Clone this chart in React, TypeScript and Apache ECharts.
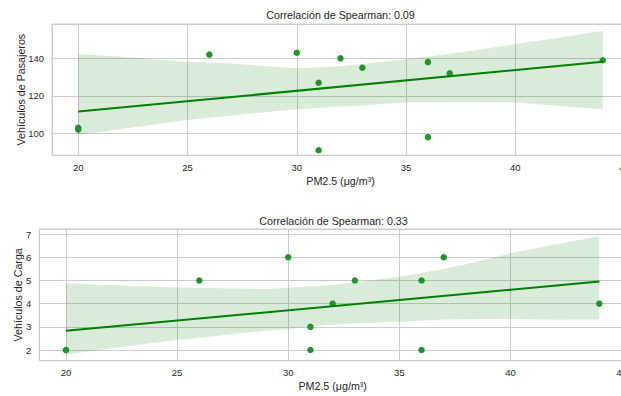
import React, { useEffect, useRef } from "react";
import * as echarts from "echarts";

const pm25 = [20, 20, 26, 30, 31, 31, 32, 33, 36, 36, 37, 44];
const pasajeros = [103, 102, 142, 143, 127, 91, 140, 135, 138, 98, 132, 139];
const carga = [2, 2, 5, 6, 3, 2, 4, 5, 5, 2, 6, 4];

const titles = ["Correlación de Spearman: 0.09", "Correlación de Spearman: 0.33"];
const yNames = ["Vehículos de Pasajeros", "Vehículos de Carga"];
const xName = "PM2.5 (μg/m³)";

// confidence band edges
const bandX = [20, 22, 24, 25, 27, 29, 30, 32, 35, 37, 38, 40, 42, 44];
const pasUpper = [142.3, 140.8, 139.0, 138.2, 137.3, 135.5, 134.7, 135.8, 139.5, 142.5, 144.0, 147.6, 151.0, 154.7];
const pasLower = [99.1, 102.3, 105.5, 107.1, 109.5, 111.8, 112.8, 114.2, 116.4, 116.6, 116.6, 116.4, 114.6, 112.8];
const carUpper = [4.87, 4.8, 4.73, 4.7, 4.67, 4.63, 4.69, 4.8, 5.16, 5.5, 5.7, 6.17, 6.55, 6.91];
const carLower = [1.81, 2.07, 2.31, 2.43, 2.63, 2.83, 2.91, 3.1, 3.22, 3.32, 3.33, 3.34, 3.31, 3.32];

const FONT = "'Liberation Sans', Arial, sans-serif";
const TXT = "#262626";
const GRIDC = "#cccccc";
const PT = "#22922a";
const LINE = "#008000";

function ols(xs: number[], ys: number[]) {
  const n = xs.length;
  const mx = xs.reduce((a, b) => a + b, 0) / n;
  const my = ys.reduce((a, b) => a + b, 0) / n;
  let sxy = 0, sxx = 0;
  for (let i = 0; i < n; i++) {
    sxy += (xs[i] - mx) * (ys[i] - my);
    sxx += (xs[i] - mx) * (xs[i] - mx);
  }
  const b = sxy / sxx;
  const a = my - b * mx;
  const x0 = Math.min(...xs), x1 = Math.max(...xs);
  return [[x0, a + b * x0], [x1, a + b * x1]];
}

export default function App() {
  const ref = useRef<HTMLDivElement>(null);
  useEffect(() => {
    if (!ref.current) return;
    const chart = echarts.init(ref.current, null, { renderer: "svg" });
    const grids = [
      { left: 52, top: 24, width: 577, height: 131.3 },
      { left: 39.3, top: 229, width: 586.7, height: 131.7 },
    ];
    const yRanges = [
      { min: 88.3, max: 158.3, splitNumber: 3, gap: 25.6 },
      { min: 1.54, max: 7.22, splitNumber: 5, gap: 16.2 },
    ];
    const ys = [pasajeros, carga];
    const uppers = [pasUpper, carUpper];
    const lowers = [pasLower, carLower];
    const series: any[] = [];
    for (let k = 0; k < 2; k++) {
      const up = uppers[k];
      const lo = lowers[k];
      series.push({
        type: "custom",
        xAxisIndex: k,
        yAxisIndex: k,
        silent: true,
        clip: true,
        z: 1,
        data: bandX.map((x, i) => [x, lo[i], up[i]]),
        encode: { x: 0, y: [1, 2] },
        renderItem: (params: any, api: any) => {
          if (params.dataIndex !== 0) return null;
          const pts: number[][] = [];
          for (let i = 0; i < bandX.length; i++) pts.push(api.coord([bandX[i], up[i]]));
          for (let i = bandX.length - 1; i >= 0; i--) pts.push(api.coord([bandX[i], lo[i]]));
          return {
            type: "polygon",
            shape: { points: pts },
            style: { fill: "rgba(0,128,0,0.15)", stroke: "none" },
          };
        },
      });
      series.push({
        type: "scatter",
        xAxisIndex: k,
        yAxisIndex: k,
        symbolSize: 6.5,
        itemStyle: { color: PT, opacity: 1 },
        data: pm25.map((x, i) => [x, ys[k][i]]),
        z: 3,
      });
      series.push({
        type: "line",
        xAxisIndex: k,
        yAxisIndex: k,
        symbol: "none",
        lineStyle: { color: LINE, width: 2 },
        data: ols(pm25, ys[k]),
        z: 4,
      });
    }
    const isMult = (v: number, m: number) => Math.abs(v / m - Math.round(v / m)) < 1e-6;
    chart.setOption({
      animation: false,
      textStyle: { fontFamily: FONT },
      grid: grids.map((g) => ({
        ...g,
        show: true,
        borderColor: GRIDC,
        borderWidth: 1,
        containLabel: false,
        outerBoundsMode: "none",
      })),
      xAxis: grids.map((_, k) => ({
        type: "value",
        gridIndex: k,
        min: 18.8,
        max: 45.2,
        splitNumber: 5,
        name: xName,
        nameLocation: "middle",
        nameGap: 20,
        nameMoveOverlap: false,
        nameTextStyle: { color: TXT, fontSize: 10.7, fontFamily: FONT },
        axisLine: { show: false },
        axisTick: { show: false },
        axisLabel: {
          color: TXT,
          fontSize: 9.5,
          margin: 7,
          fontFamily: FONT,
          showMinLabel: true,
          showMaxLabel: true,
          hideOverlap: false,
          formatter: (v: number) => (isMult(v, 5) ? String(v) : ""),
        },
        splitLine: { show: true, lineStyle: { color: GRIDC, width: 1 } },
      })),
      yAxis: yRanges.map((r, k) => ({
        type: "value",
        gridIndex: k,
        min: r.min,
        max: r.max,
        splitNumber: r.splitNumber,
        name: yNames[k],
        nameLocation: "middle",
        nameGap: r.gap,
        nameRotate: 90,
        nameMoveOverlap: false,
        nameTextStyle: { color: TXT, fontSize: 10.7, fontFamily: FONT },
        axisLine: { show: false },
        axisTick: { show: false },
        axisLabel: {
          color: TXT,
          fontSize: 9.5,
          margin: 8,
          fontFamily: FONT,
          formatter: (v: number) => (isMult(v, k === 0 ? 20 : 1) ? String(v) : ""),
        },
        splitLine: { show: true, lineStyle: { color: GRIDC, width: 1 } },
      })),
      graphic: [
        {
          type: "text",
          x: 340.5,
          y: 14.5,
          style: { text: titles[0], align: "center", verticalAlign: "middle", textAlign: "center", textVerticalAlign: "middle", font: `10.7px ${FONT}`, fill: TXT },
        },
        {
          type: "text",
          x: 333.5,
          y: 220.5,
          style: { text: titles[1], align: "center", verticalAlign: "middle", textAlign: "center", textVerticalAlign: "middle", font: `10.7px ${FONT}`, fill: TXT },
        },
      ],
      series,
    });
    return () => chart.dispose();
  }, []);
  return (
    <div
      ref={ref}
      style={{ position: "fixed", left: 0, top: 0, width: 621, height: 396, background: "#ffffff" }}
    />
  );
}
